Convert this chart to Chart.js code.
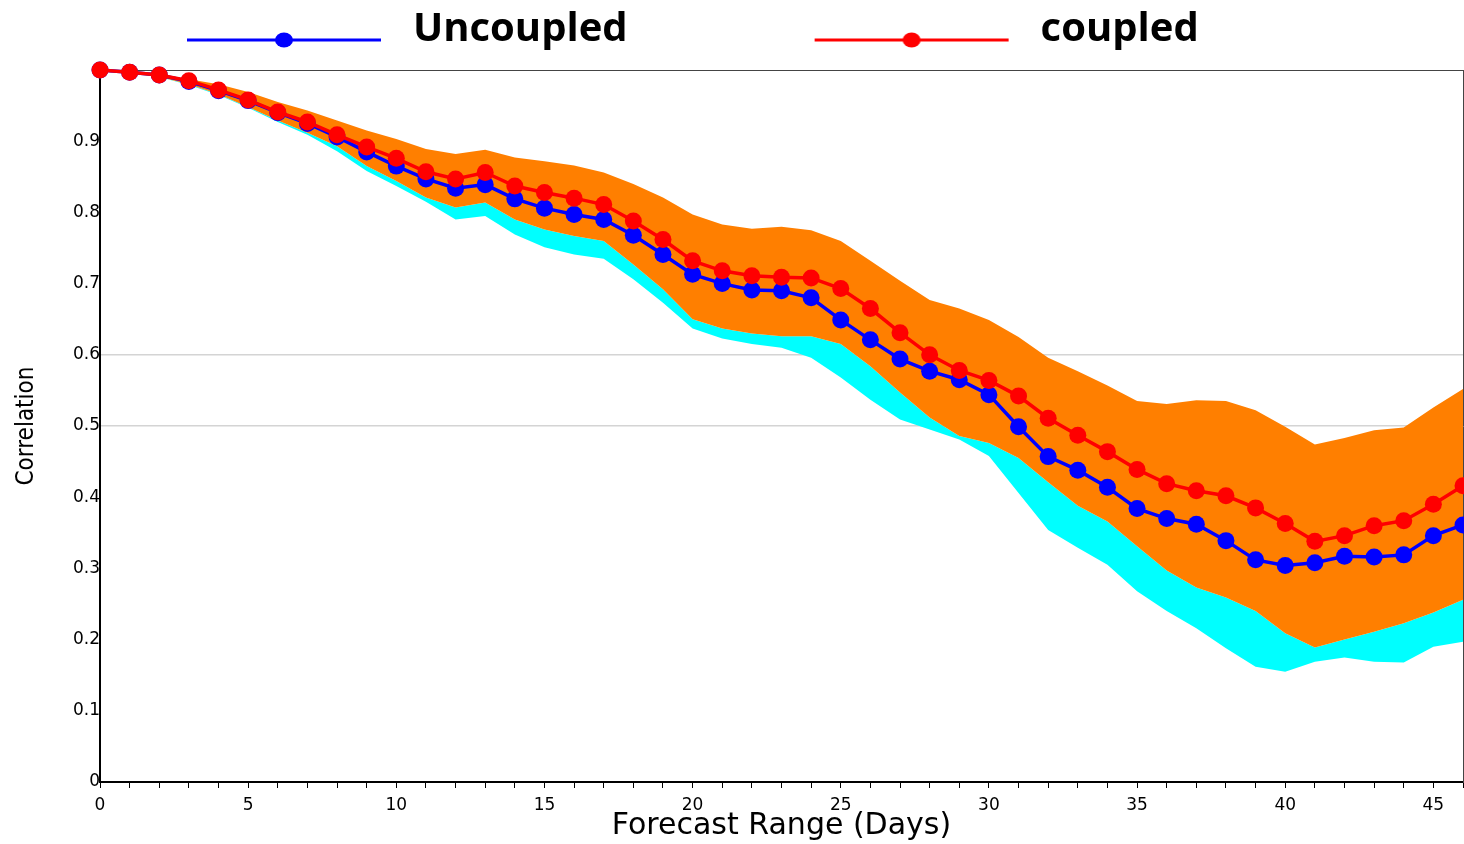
<!DOCTYPE html>
<html>
<head>
<meta charset="utf-8">
<title>Correlation vs forecast range</title>
<script src="https://cdn.jsdelivr.net/npm/chart.js@4.4.1/dist/chart.umd.min.js"></script>
<style>
  html, body { margin: 0; padding: 0; background: #fff; }
  canvas { display: block; }
</style>
</head>
<body>
<canvas id="chart" width="1464" height="844"></canvas>
<script>
'use strict';

// forecast days 0..46
var days = [0, 1, 2, 3, 4, 5, 6, 7, 8, 9, 10, 11, 12, 13, 14, 15, 16, 17, 18, 19, 20, 21, 22, 23,
    24, 25, 26, 27, 28, 29, 30, 31, 32, 33, 34, 35, 36, 37, 38, 39, 40, 41, 42, 43, 44, 45, 46];

var uncoupled = [1.000, 0.997, 0.993, 0.984, 0.971, 0.957, 0.940, 0.925, 0.906, 0.885, 0.865, 0.847,
    0.834, 0.839, 0.819, 0.806, 0.797, 0.790, 0.768, 0.741, 0.713, 0.700, 0.691, 0.690, 0.680, 0.649,
    0.621, 0.594, 0.577, 0.565, 0.544, 0.499, 0.457, 0.438, 0.414, 0.384, 0.370, 0.362, 0.339, 0.312,
    0.304, 0.308, 0.317, 0.316, 0.319, 0.346, 0.361];

var coupled = [1.000, 0.997, 0.993, 0.985, 0.972, 0.958, 0.941, 0.927, 0.909, 0.892, 0.876, 0.857,
    0.847, 0.856, 0.837, 0.828, 0.820, 0.811, 0.788, 0.762, 0.732, 0.718, 0.711, 0.709, 0.708, 0.693,
    0.665, 0.631, 0.600, 0.578, 0.564, 0.542, 0.511, 0.487, 0.464, 0.439, 0.419, 0.409, 0.402, 0.385,
    0.363, 0.338, 0.346, 0.360, 0.367, 0.390, 0.416];

// orange band (coupled spread)
var coupledHigh = [1.000, 0.998, 0.994, 0.987, 0.980, 0.969, 0.955, 0.943, 0.929, 0.915, 0.903, 0.889,
    0.882, 0.888, 0.877, 0.872, 0.866, 0.856, 0.840, 0.821, 0.797, 0.783, 0.777, 0.780, 0.775, 0.760,
    0.732, 0.704, 0.677, 0.665, 0.649, 0.625, 0.596, 0.577, 0.557, 0.535, 0.531, 0.536, 0.535, 0.522,
    0.499, 0.474, 0.483, 0.494, 0.498, 0.526, 0.552];

var coupledLow = [1.000, 0.996, 0.990, 0.980, 0.966, 0.948, 0.929, 0.912, 0.893, 0.865, 0.844, 0.821,
    0.807, 0.814, 0.790, 0.776, 0.767, 0.760, 0.727, 0.692, 0.650, 0.637, 0.630, 0.626, 0.626, 0.615,
    0.584, 0.547, 0.512, 0.486, 0.476, 0.455, 0.421, 0.388, 0.366, 0.331, 0.297, 0.273, 0.259, 0.240,
    0.209, 0.189, 0.200, 0.211, 0.223, 0.238, 0.256];

// cyan band lower edge (uncoupled spread, showing below the orange)
var uncoupledLow = [1.000, 0.996, 0.990, 0.979, 0.965, 0.947, 0.927, 0.909, 0.886, 0.858, 0.837, 0.815,
    0.790, 0.795, 0.769, 0.751, 0.741, 0.735, 0.706, 0.673, 0.637, 0.623, 0.615, 0.610, 0.596, 0.568,
    0.537, 0.509, 0.495, 0.481, 0.458, 0.406, 0.354, 0.329, 0.305, 0.268, 0.240, 0.216, 0.188, 0.162,
    0.155, 0.169, 0.175, 0.169, 0.168, 0.190, 0.197];

var yTicks = [0, 0.1, 0.2, 0.3, 0.4, 0.5, 0.6, 0.7, 0.8, 0.9];
var gridValues = [0.5, 0.6];

var BLUE = '#0000ff',
    RED = '#ff0000',
    ORANGE = '#ff7f00',
    CYAN = '#00ffff';

function toPoints(values) {
    return days.map(function(d, i) {
        return {x: d, y: values[i]};
    });
}

/**
 * Legend swatch: long line with a dot in the middle.
 * @param {string} color line color
 * @returns {HTMLCanvasElement}
 */
function legendMark(color) {
    var c = document.createElement('canvas');
    c.width = 383;
    c.height = 40;
    var g = c.getContext('2d');
    g.strokeStyle = color;
    g.lineWidth = 3;
    g.beginPath();
    g.moveTo(177, 30);
    g.lineTo(371, 30);
    g.stroke();
    g.fillStyle = color;
    g.beginPath();
    g.ellipse(274, 30, 9, 7.5, 0, 0, Math.PI * 2);
    g.fill();
    return c;
}

function lineSeries(label, values, color) {
    return {
        label: label,
        data: toPoints(values),
        borderColor: color,
        backgroundColor: color,
        borderWidth: 3.5,
        pointRadius: 8.5,
        pointHoverRadius: 8.5,
        pointBorderWidth: 0,
        fill: false,
        clip: false
    };
}

function bandEdge(label, values, fill, color) {
    return {
        label: label,
        data: toPoints(values),
        borderWidth: 0,
        borderColor: 'transparent',
        backgroundColor: color || 'transparent',
        pointRadius: 0,
        pointHoverRadius: 0,
        fill: fill
    };
}

// no side padding from edge tick labels, so the plot reaches the canvas edge
function noSidePadding(scale) {
    scale.paddingLeft = 0;
    scale.paddingRight = 0;
}

var datasets = [
    lineSeries('coupled', coupled, RED),
    lineSeries('Uncoupled', uncoupled, BLUE),
    bandEdge('coupled high', coupledHigh, {target: 3}, ORANGE),
    bandEdge('coupled low', coupledLow, {target: 4}, CYAN),
    bandEdge('uncoupled low', uncoupledLow, false)
];

var legendItems = [
    {text: 'Uncoupled', color: BLUE, datasetIndex: 1},
    {text: 'coupled', color: RED, datasetIndex: 0}
];

new Chart(document.getElementById('chart'), {
    type: 'line',
    data: {datasets: datasets},
    options: {
        responsive: false,
        animation: false,
        devicePixelRatio: 1,
        layout: {padding: 0, autoPadding: false},
        elements: {line: {tension: 0}},
        plugins: {
            tooltip: {enabled: false},
            legend: {
                position: 'top',
                align: 'start',
                labels: {
                    usePointStyle: true,
                    pointStyleWidth: 383,
                    padding: 10,
                    color: '#000',
                    font: {family: '"Open Sans", sans-serif', size: 40, weight: 'bold'},
                    generateLabels: function() {
                        return legendItems.map(function(item) {
                            return {
                                text: item.text,
                                fillStyle: item.color,
                                strokeStyle: item.color,
                                lineWidth: 0,
                                pointStyle: legendMark(item.color),
                                hidden: false,
                                datasetIndex: item.datasetIndex
                            };
                        });
                    }
                }
            }
        },
        scales: {
            x: {
                type: 'linear',
                position: 'bottom',
                min: 0,
                max: 46,
                afterFit: function(scale) {
                    scale.height = 62;
                    noSidePadding(scale);
                },
                ticks: {
                    stepSize: 1,
                    autoSkip: false,
                    maxRotation: 0,
                    padding: 7,
                    color: '#000',
                    font: {family: '"DejaVu Sans", sans-serif', size: 17},
                    callback: function(v) { return v % 5 === 0 ? String(v) : ''; }
                },
                grid: {
                    drawOnChartArea: false,
                    drawTicks: true,
                    tickLength: 6,
                    tickColor: '#000',
                    tickWidth: 1
                },
                border: {color: '#000', width: 2},
                title: {
                    display: true,
                    text: 'Forecast Range (Days)',
                    color: '#000',
                    padding: {top: 0, bottom: 0},
                    font: {family: '"DejaVu Sans", sans-serif', size: 30}
                }
            },
            x2: {
                type: 'linear',
                position: 'top',
                min: 0,
                max: 46,
                afterFit: function(scale) {
                    scale.height = 10;
                    noSidePadding(scale);
                },
                ticks: {display: false, padding: 0},
                grid: {drawOnChartArea: false, drawTicks: false},
                border: {color: '#444', width: 1}
            },
            y: {
                position: 'left',
                min: 0,
                max: 1,
                afterFit: function(scale) { scale.width = 100; },
                afterBuildTicks: function(scale) {
                    scale.ticks = yTicks.concat([1]).map(function(v) { return {value: v}; });
                },
                ticks: {
                    padding: 0,
                    color: '#000',
                    font: {family: '"DejaVu Sans", sans-serif', size: 17},
                    callback: function(v) { return yTicks.indexOf(v) >= 0 ? String(v) : ''; }
                },
                grid: {
                    drawTicks: false,
                    lineWidth: 1.5,
                    color: function(ctx) {
                        var v = ctx.tick && ctx.tick.value;
                        return gridValues.indexOf(v) >= 0 ? '#d4d4d4' : 'transparent';
                    }
                },
                border: {color: '#000', width: 2},
                title: {
                    display: true,
                    text: 'Correlation',
                    color: '#000',
                    padding: {top: 12, bottom: 0},
                    font: {family: '"DejaVu Sans Condensed", "Liberation Sans", sans-serif', size: 24}
                }
            },
            y2: {
                position: 'right',
                min: 0,
                max: 1,
                afterFit: function(scale) { scale.width = 1; },
                ticks: {display: false, padding: 0},
                grid: {drawOnChartArea: false, drawTicks: false},
                border: {color: '#444', width: 1}
            }
        }
    }
});
</script>
</body>
</html>
